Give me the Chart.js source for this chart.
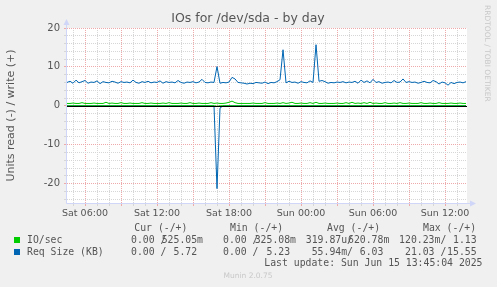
<!DOCTYPE html>
<html>
<head>
<meta charset="utf-8">
<title>IOs for /dev/sda - by day</title>
<script src="https://cdn.jsdelivr.net/npm/chart.js@4.4.1/dist/chart.umd.min.js"></script>
<style>
  html, body { margin: 0; padding: 0; background: #f0f0f0; }
  #wrap { width: 497px; height: 287px; }
</style>
</head>
<body>
<div id="wrap"><canvas id="ioChart" width="497" height="287"></canvas></div>
<script>
// one sample every 15 minutes, first one at Sat 04:30 (hours counted from Sat 00:00)
const startHour = 4.5;
const stepHour = 0.25;

// IO/sec, write (+) side
const ioWrite = [
  0.6, 0.6, 0.7, 0.6, 0.6, 0.8, 0.6, 0.6, 0.6, 0.7,
  0.6, 0.6, 0.6, 0.9, 0.6, 0.7, 0.6, 0.6, 0.8, 0.6,
  0.6, 0.7, 0.6, 0.6, 0.6, 0.8, 0.6, 0.6, 0.7, 0.6,
  0.6, 0.6, 0.7, 0.6, 0.8, 0.6, 0.6, 0.6, 0.7, 0.6,
  0.6, 0.8, 0.6, 0.6, 0.7, 0.6, 0.6, 0.6, 0.8, 0.6,
  0.7, 0.6, 0.6, 0.7, 0.9, 1.2, 0.8, 0.6, 0.6, 0.6,
  0.6, 0.6, 0.7, 0.6, 0.6, 0.6, 0.8, 0.6, 0.6, 0.6,
  0.7, 0.6, 0.8, 0.6, 0.7, 0.9, 0.6, 0.6, 0.7, 0.6,
  0.6, 0.8, 0.6, 0.9, 0.6, 0.6, 0.7, 0.6, 0.6, 0.6,
  0.7, 0.6, 0.6, 0.8, 0.6, 0.9, 0.6, 0.7, 0.6, 0.8,
  0.6, 0.9, 0.6, 0.7, 0.6, 0.6, 0.8, 0.6, 0.6, 0.7,
  0.6, 0.8, 0.6, 0.6, 0.7, 0.6, 0.6, 0.6, 0.8, 0.6,
  0.6, 0.7, 0.6, 0.6, 0.8, 0.6, 0.6, 0.6, 0.7, 0.6,
  0.6, 0.7, 0.6, 0.6
];
// IO/sec, read (-) side
const ioRead = [
  0, 0, 0, 0, 0, 0, 0, 0, 0, 0,
  0, 0, 0, 0, 0, 0, 0, 0, 0, 0,
  0, 0, 0, 0, 0, 0, 0, 0, 0, 0,
  0, 0, 0, 0, 0, 0, 0, 0, 0, 0,
  0, 0, 0, 0, 0, 0, 0, 0, 0, 0,
  -0.12, 0, 0, 0, 0, 0, 0, 0, 0, 0,
  0, 0, 0, 0, 0, 0, 0, 0, 0, 0,
  0, 0, 0, 0, 0, 0, 0, 0, 0, 0,
  0, 0, 0, 0, 0, 0, 0, 0, 0, 0,
  0, 0, 0, 0, 0, 0, 0, 0, 0, 0,
  0, 0, 0, 0, 0, 0, 0, 0, 0, 0,
  0, 0, 0, 0, 0, 0, 0, 0, 0, 0,
  0, 0, 0, 0, 0, 0, 0, 0, 0, 0,
  0, 0, 0, 0
];
// Req Size (KB), write (+) side
const reqWrite = [
  6.0, 6.3, 5.8, 6.6, 5.9, 6.2, 6.5, 5.8, 6.1, 6.0,
  6.4, 5.7, 6.2, 6.0, 5.9, 6.3, 6.1, 5.8, 6.2, 6.0,
  6.1, 5.9, 6.6, 6.0, 5.8, 6.2, 6.0, 6.3, 5.9, 6.1,
  6.0, 6.4, 5.8, 6.2, 6.0, 6.1, 5.9, 6.5, 6.0, 5.8,
  6.1, 6.0, 6.2, 5.9, 6.1, 6.8, 6.0, 5.9, 6.1, 6.0,
  10.1, 5.8, 6.0, 5.9, 6.1, 7.3, 6.9, 6.0, 5.9, 5.8,
  5.6, 5.8, 5.7, 6.0, 5.9, 5.8, 6.1, 5.7, 6.0, 5.9,
  6.2, 6.7, 14.4, 5.9, 6.3, 6.0, 6.1, 5.8, 6.2, 6.0,
  5.9, 6.4, 6.0, 15.7, 6.3, 6.5, 6.2, 5.8, 6.0, 5.9,
  6.1, 6.0, 6.2, 5.9, 6.1, 6.0, 6.3, 5.8, 6.6, 6.0,
  6.4, 5.9, 6.8, 6.0, 6.2, 5.8, 6.0, 6.1, 5.9, 6.5,
  6.0, 6.1, 6.9, 6.0, 6.2, 6.0, 6.1, 5.8, 6.0, 6.3,
  6.0, 5.9, 6.5, 6.2, 5.6, 6.1, 5.9, 5.3, 6.0, 5.7,
  6.0, 6.1, 5.9, 6.2
];
// Req Size (KB), read (-) side
const reqRead = [
  0, 0, 0, 0, 0, 0, 0, 0, 0, 0,
  0, 0, 0, 0, 0, 0, 0, 0, 0, 0,
  0, 0, 0, 0, 0, 0, 0, 0, 0, 0,
  0, 0, 0, 0, 0, 0, 0, 0, 0, 0,
  0, 0, 0, 0, 0, 0, 0, 0, 0, 0,
  -21.3, -0.6, 0, 0, 0, 0, 0, 0, 0, 0,
  0, 0, 0, 0, 0, 0, 0, 0, 0, 0,
  0, 0, 0, 0, 0, 0, 0, 0, 0, 0,
  0, 0, 0, 0, 0, 0, 0, 0, 0, 0,
  0, 0, 0, 0, 0, 0, 0, 0, 0, 0,
  0, 0, 0, 0, 0, 0, 0, 0, 0, 0,
  0, 0, 0, 0, 0, 0, 0, 0, 0, 0,
  0, 0, 0, 0, 0, 0, 0, 0, 0, 0,
  0, 0, 0, 0
];

// x tick labels and where they sit
const labelHours = [6, 12, 18, 24, 30, 36];
const dayLabels = ['Sat 06:00', 'Sat 12:00', 'Sat 18:00', 'Sun 00:00', 'Sun 06:00', 'Sun 12:00'];

// legend text
const seriesNames = ['IO/sec', 'Req Size (KB)'];
const seriesColors = ['#00cc00', '#0066b3'];
const legendHeads = ['Cur (-/+)', 'Min (-/+)', 'Avg (-/+)', 'Max (-/+)'];
const ioStats = [['0.00 /', '525.05m'], ['0.00 /', '325.08m'], ['319.87u/', '620.78m'], ['120.23m/', '1.13 ']];
const reqStats = [['0.00 /', '5.72 '], ['0.00 /', '5.23 '], ['55.94m/', '6.03 '], ['21.03 /', '15.55 ']];
const lastUpdate = 'Last update: Sun Jun 15 13:45:04 2025';

const xMin = 4.5, xMax = 37.83;
const yMin = -25, yMax = 20;

function toPoints(values) {
  return values.map((v, i) => ({ x: startHour + i * stepHour, y: v }));
}

const sansFont = '"DejaVu Sans", sans-serif';
const monoFont = '"DejaVu Sans Mono", monospace';
const redGrid = '#eeaaaa';
const grayGrid = '#d6d6d6';
const axisColor = '#cfd6f8';

const muninFrame = {
  id: 'muninFrame',
  beforeDraw(chart) {
    const c = chart.ctx, a = chart.chartArea;
    c.save();
    c.fillStyle = '#f0f0f0';
    c.fillRect(0, 0, chart.width, chart.height);
    c.fillStyle = '#ffffff';
    c.fillRect(a.left, a.top, a.right - a.left, a.bottom - a.top);
    c.restore();
  },
  afterDatasetsDraw(chart) {
    const c = chart.ctx, a = chart.chartArea;
    const y0 = Math.round(chart.scales.y.getPixelForValue(0)) + 0.5;
    c.save();
    c.strokeStyle = '#000000';
    c.lineWidth = 1;
    c.beginPath();
    c.moveTo(a.left, y0);
    c.lineTo(a.right, y0);
    c.stroke();
    c.restore();
  },
  afterDraw(chart) {
    const c = chart.ctx, a = chart.chartArea;
    c.save();

    // axes and arrows
    c.strokeStyle = axisColor;
    c.fillStyle = axisColor;
    c.lineWidth = 1;
    c.beginPath();
    c.moveTo(a.left - 0.5, a.top - 6);
    c.lineTo(a.left - 0.5, a.bottom + 0.5);
    c.lineTo(a.right + 4, a.bottom + 0.5);
    c.stroke();
    c.beginPath();
    c.moveTo(a.left - 3.5, a.top - 3);
    c.lineTo(a.left + 2.5, a.top - 3);
    c.lineTo(a.left - 0.5, a.top - 9);
    c.closePath();
    c.fill();
    c.beginPath();
    c.moveTo(a.right + 3, a.bottom - 2.5);
    c.lineTo(a.right + 3, a.bottom + 3.5);
    c.lineTo(a.right + 9, a.bottom + 0.5);
    c.closePath();
    c.fill();

    // title
    c.fillStyle = '#555';
    c.textAlign = 'center';
    c.textBaseline = 'middle';
    c.font = '12.5px ' + sansFont;
    c.fillText('IOs for /dev/sda - by day', 248, 19);

    // vertical axis title
    c.save();
    c.translate(11, (a.top + a.bottom) / 2);
    c.rotate(-Math.PI / 2);
    c.font = '11px ' + sansFont;
    c.fillText('Units read (-) / write (+)', 0, 0);
    c.restore();

    // watermark
    c.save();
    c.translate(487, 5);
    c.rotate(Math.PI / 2);
    c.fillStyle = '#c8c8c8';
    c.textAlign = 'left';
    c.font = '7.5px ' + sansFont;
    c.fillText('RRDTOOL / TOBI OETIKER', 0, 0);
    c.restore();

    c.fillStyle = '#c8c8c8';
    c.font = '7.5px ' + sansFont;
    c.fillText('Munin 2.0.75', 248, 276);

    // legend
    c.font = '9.8px ' + monoFont;
    c.fillStyle = '#555';
    c.textAlign = 'left';
    const headX = [134.3, 230, 327, 423];
    legendHeads.forEach((h, i) => c.fillText(h, headX[i], 228));

    const splitX = [166.4, 258.4, 353, 446.3];
    const endX = [203, 296, 389.3, 482.5];
    const rows = [ioStats, reqStats];
    const rowY = [240, 252];
    rows.forEach((stats, r) => {
      c.fillStyle = seriesColors[r];
      c.fillRect(14, rowY[r] - 3, 6, 6);
      c.fillStyle = '#555';
      c.textAlign = 'left';
      c.fillText(seriesNames[r], 27, rowY[r]);
      c.textAlign = 'right';
      stats.forEach((s, i) => {
        c.fillText(s[0], splitX[i], rowY[r]);
        c.fillText(s[1], endX[i], rowY[r]);
      });
    });
    c.textAlign = 'right';
    c.fillText(lastUpdate, 482.5, 263.5);

    c.restore();
  }
};

function lineSet(values, color) {
  return {
    data: toPoints(values),
    borderColor: color,
    borderWidth: 1,
    pointRadius: 0,
    tension: 0,
    fill: false
  };
}

new Chart(document.getElementById('ioChart'), {
  type: 'line',
  data: {
    datasets: [
      lineSet(ioRead, seriesColors[0]),
      lineSet(ioWrite, seriesColors[0]),
      lineSet(reqRead, seriesColors[1]),
      lineSet(reqWrite, seriesColors[1])
    ]
  },
  options: {
    responsive: false,
    animation: false,
    layout: { padding: { top: 28, right: 30, left: 0, bottom: 0 } },
    plugins: { legend: { display: false }, tooltip: { enabled: false } },
    scales: {
      x: {
        type: 'linear',
        min: xMin,
        max: xMax,
        afterBuildTicks: (scale) => {
          const t = [];
          for (let h = 5; h <= 37; h++) t.push({ value: h });
          scale.ticks = t;
        },
        afterFit: (scale) => { scale.height = 84; },
        grid: {
          color: (ctx) => (ctx.tick && ctx.tick.value % 3 === 0) ? redGrid : grayGrid,
          lineWidth: 1,
          tickLength: 3
        },
        border: { display: false, dash: [1, 1] },
        ticks: {
          autoSkip: false,
          maxRotation: 0,
          padding: 2,
          color: '#555',
          font: { family: sansFont, size: 9.5 },
          callback: (v) => {
            const k = labelHours.indexOf(v);
            return k >= 0 ? dayLabels[k] : '';
          }
        }
      },
      y: {
        min: yMin,
        max: yMax,
        afterBuildTicks: (scale) => {
          const t = [];
          for (let v = -24; v <= 20; v += 2) t.push({ value: v });
          scale.ticks = t;
        },
        afterFit: (scale) => { scale.width = 67; },
        grid: {
          color: (ctx) => (ctx.tick && ctx.tick.value % 10 === 0) ? redGrid : grayGrid,
          lineWidth: 1,
          tickLength: 3
        },
        border: { display: false, dash: [1, 1] },
        ticks: {
          autoSkip: false,
          padding: 4,
          color: '#555',
          font: { family: sansFont, size: 10 },
          callback: (v) => (v % 10 === 0 ? String(v) : '')
        }
      }
    }
  },
  plugins: [muninFrame]
});
</script>
</body>
</html>
